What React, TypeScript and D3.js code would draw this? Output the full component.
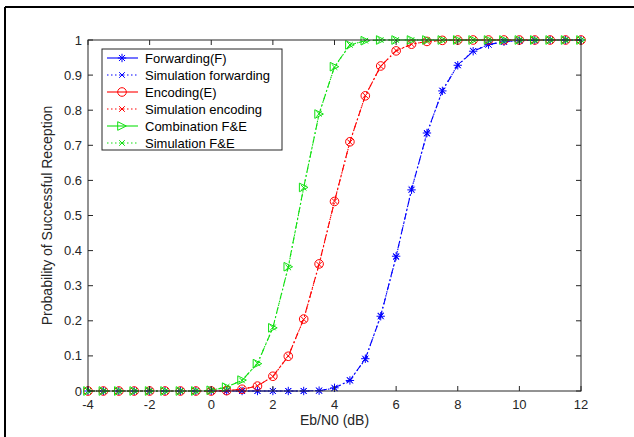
import React from "react";
import * as d3 from "d3";

// Eb/N0 sweep in dB
const ebn0 = [-4, -3.5, -3, -2.5, -2, -1.5, -1, -0.5, 0, 0.5, 1, 1.5, 2, 2.5, 3, 3.5, 4, 4.5, 5, 5.5, 6, 6.5, 7, 7.5, 8, 8.5, 9, 9.5, 10, 10.5, 11, 11.5, 12];

const forwarding = [0, 0, 0, 0, 0, 0, 0, 0, 0, 0, 0, 0, 0, 0, 0, 0.001, 0.009, 0.03, 0.092, 0.213, 0.384, 0.573, 0.735, 0.855, 0.928, 0.968, 0.987, 0.995, 0.998, 0.999, 1, 1, 1];
const simForwarding = [0, 0, 0, 0, 0, 0, 0, 0, 0, 0, 0, 0, 0, 0, 0, 0.001, 0.008, 0.031, 0.09, 0.215, 0.382, 0.575, 0.733, 0.856, 0.929, 0.969, 0.987, 0.995, 0.998, 0.999, 1, 1, 1];
const encoding = [0, 0, 0, 0, 0, 0, 0, 0, 0, 0.001, 0.005, 0.014, 0.042, 0.099, 0.205, 0.362, 0.54, 0.71, 0.841, 0.926, 0.969, 0.988, 0.996, 0.999, 1, 1, 1, 1, 1, 1, 1, 1, 1];
const simEncoding = [0, 0, 0, 0, 0, 0, 0, 0, 0, 0.001, 0.005, 0.015, 0.041, 0.1, 0.204, 0.36, 0.541, 0.709, 0.842, 0.925, 0.97, 0.988, 0.996, 0.999, 1, 1, 1, 1, 1, 1, 1, 1, 1];
const combination = [0, 0, 0, 0, 0, 0, 0, 0, 0.002, 0.011, 0.031, 0.078, 0.18, 0.354, 0.58, 0.789, 0.924, 0.986, 0.998, 1, 1, 1, 1, 1, 1, 1, 1, 1, 1, 1, 1, 1, 1];
const simCombination = [0, 0, 0, 0, 0, 0, 0, 0, 0.002, 0.012, 0.03, 0.079, 0.181, 0.352, 0.579, 0.79, 0.923, 0.986, 0.998, 1, 1, 1, 1, 1, 1, 1, 1, 1, 1, 1, 1, 1, 1];

const xTicks = [-4, -2, 0, 2, 4, 6, 8, 10, 12];
const yTicks = [0, 0.1, 0.2, 0.3, 0.4, 0.5, 0.6, 0.7, 0.8, 0.9, 1];

const legendLabels = [
  "Forwarding(F)",
  "Simulation forwarding",
  "Encoding(E)",
  "Simulation encoding",
  "Combination F&E",
  "Simulation F&E",
];

type Marker = "star" | "x" | "circle" | "tri";
interface Series {
  values: number[];
  color: string;
  marker: Marker;
  sim: boolean;
}

const series: Series[] = [
  { values: forwarding, color: "#0000ff", marker: "star", sim: false },
  { values: simForwarding, color: "#0000ff", marker: "x", sim: true },
  { values: encoding, color: "#ff0000", marker: "circle", sim: false },
  { values: simEncoding, color: "#ff0000", marker: "x", sim: true },
  { values: combination, color: "#10e010", marker: "tri", sim: false },
  { values: simCombination, color: "#10e010", marker: "x", sim: true },
];

const W = 634;
const H = 437;
const left = 88;
const right = 581;
const top = 40;
const bottom = 391;
const font = "'Liberation Sans', Arial, Helvetica, sans-serif";
const axisColor = "#262626";

function MarkerShape({ kind, x, y, color }: { kind: Marker; x: number; y: number; color: string }) {
  const sw = 1;
  if (kind === "star") {
    const r = 4.2;
    const d = r * 0.72;
    return (
      <g stroke={color} strokeWidth={sw} fill="none">
        <line x1={x - r} y1={y} x2={x + r} y2={y} />
        <line x1={x} y1={y - r} x2={x} y2={y + r} />
        <line x1={x - d} y1={y - d} x2={x + d} y2={y + d} />
        <line x1={x - d} y1={y + d} x2={x + d} y2={y - d} />
      </g>
    );
  }
  if (kind === "x") {
    const d = 2.8;
    return (
      <g stroke={color} strokeWidth={sw} fill="none">
        <line x1={x - d} y1={y - d} x2={x + d} y2={y + d} />
        <line x1={x - d} y1={y + d} x2={x + d} y2={y - d} />
      </g>
    );
  }
  if (kind === "circle") {
    return <circle cx={x} cy={y} r={4.3} stroke={color} strokeWidth={sw} fill="none" />;
  }
  const s = 4.3;
  return (
    <path
      d={`M${x + s},${y} L${x - s},${y - s} L${x - s},${y + s} Z`}
      stroke={color}
      strokeWidth={sw}
      fill="none"
    />
  );
}

export default function App() {
  const xScale = d3.scaleLinear().domain([-4, 12]).range([left, right]);
  const yScale = d3.scaleLinear().domain([0, 1]).range([bottom, top]);
  const lineGen = d3
    .line<number>()
    .x((_, i) => xScale(ebn0[i]))
    .y((v) => yScale(v));

  const tickLen = 5;
  const legX = 102;
  const legY = 49;
  const legW = 180;
  const legH = 101;
  const rowH = 17;

  return (
    <svg
      width={W}
      height={H}
      style={{ position: "fixed", left: 0, top: 0, background: "#fff" }}
      fontFamily={font}
    >
      <rect x={0} y={0} width={W} height={H} fill="#fff" />
      {/* outer frame */}
      <line x1={5} y1={7} x2={W} y2={7} stroke="#000" strokeWidth={2} />
      <line x1={5} y1={7} x2={5} y2={H} stroke="#000" strokeWidth={2} />

      {/* curves */}
      {series.map((s, k) => (
        <path
          key={"l" + k}
          d={lineGen(s.values) || ""}
          fill="none"
          stroke={s.color}
          strokeWidth={1.1}
          strokeDasharray={s.sim ? "1.5,2.5" : "7,3,1.5,3"}
        />
      ))}
      {series.map((s, k) => (
        <g key={"m" + k}>
          {s.values.map((v, i) => (
            <MarkerShape key={i} kind={s.marker} x={xScale(ebn0[i])} y={yScale(v)} color={s.color} />
          ))}
        </g>
      ))}

      {/* axes box */}
      <rect x={left} y={top} width={right - left} height={bottom - top} fill="none" stroke={axisColor} strokeWidth={1} />
      {xTicks.map((t) => (
        <g key={"xt" + t}>
          <line x1={xScale(t)} x2={xScale(t)} y1={bottom} y2={bottom - tickLen} stroke={axisColor} />
          <line x1={xScale(t)} x2={xScale(t)} y1={top} y2={top + tickLen} stroke={axisColor} />
          <text x={xScale(t)} y={bottom + 18} textAnchor="middle" fontSize={13} fill={axisColor}>
            {t}
          </text>
        </g>
      ))}
      {yTicks.map((t) => (
        <g key={"yt" + t}>
          <line x1={left} x2={left + tickLen} y1={yScale(t)} y2={yScale(t)} stroke={axisColor} />
          <line x1={right} x2={right - tickLen} y1={yScale(t)} y2={yScale(t)} stroke={axisColor} />
          <text x={left - 6} y={yScale(t) + 4.5} textAnchor="end" fontSize={13} fill={axisColor}>
            {t === 0 || t === 1 ? String(t) : t.toFixed(1)}
          </text>
        </g>
      ))}
      <text x={(left + right) / 2} y={425} textAnchor="middle" fontSize={14} fill={axisColor}>
        Eb/N0 (dB)
      </text>
      <text
        transform={`translate(52,${(top + bottom) / 2}) rotate(-90)`}
        textAnchor="middle"
        fontSize={14}
        fill={axisColor}
      >
        Probability of Successful Reception
      </text>

      {/* legend */}
      <rect x={legX} y={legY} width={legW} height={legH} fill="#fff" stroke={axisColor} strokeWidth={1} />
      {series.map((s, k) => {
        const cy = legY + 9 + k * rowH;
        return (
          <g key={"lg" + k}>
            <line
              x1={legX + 5}
              x2={legX + 36}
              y1={cy}
              y2={cy}
              stroke={s.color}
              strokeWidth={1.1}
              strokeDasharray={s.sim ? "1.5,2.5" : undefined}
            />
            <MarkerShape kind={s.marker} x={legX + 20} y={cy} color={s.color} />
            <text x={legX + 43} y={cy + 4.5} fontSize={13} fill="#000">
              {legendLabels[k]}
            </text>
          </g>
        );
      })}
    </svg>
  );
}
